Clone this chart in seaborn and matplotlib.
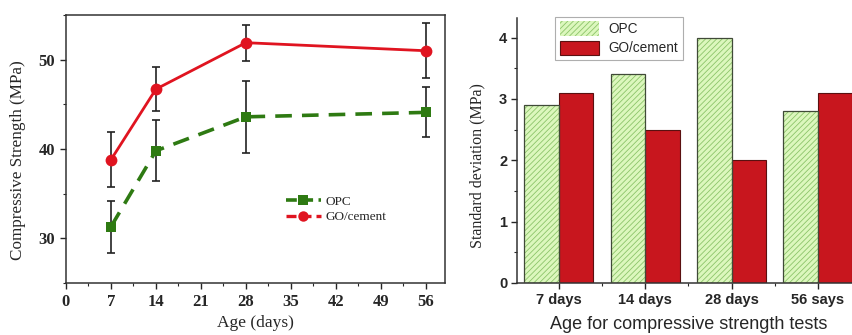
import matplotlib.pyplot as plt
import numpy as np
import pandas as pd
import seaborn as sns
from matplotlib.patches import Patch, Rectangle
from matplotlib.lines import Line2D
from matplotlib.ticker import MultipleLocator

ages = [7, 14, 28, 56]
opc_strength = [31.3, 39.8, 43.6, 44.1]
go_strength = [38.8, 46.7, 51.9, 51.0]
opc_sd = [2.9, 3.4, 4.0, 2.8]
go_sd = [3.1, 2.5, 2.0, 3.1]
age_labels = ["7 days", "14 days", "28 days", "56 says"]
series = ["OPC", "GO/cement"]

SERIF = "Liberation Serif"
SANS = "Liberation Sans"
RED_LINE = "#e01420"
GREEN_LINE = "#2e7a12"
RED_BAR = "#c8161e"
GREEN_BAR = "#dcf7bd"
HATCH_GREEN = "#8cc46a"

sns.set_style("ticks")
plt.rcParams["font.family"] = [SERIF, "DejaVu Sans"]
plt.rcParams["hatch.linewidth"] = 0.6

fig = plt.figure(figsize=(8.53, 3.35), dpi=100)

# ---- left: compressive strength vs age
ax1 = fig.add_axes([66 / 853, 52 / 335, 379 / 853, 268 / 335])

ax1.errorbar(ages, opc_strength, yerr=opc_sd, fmt="none", ecolor="#222222",
             elinewidth=1.2, capsize=3, capthick=1.2, zorder=2)
ax1.errorbar(ages, go_strength, yerr=go_sd, fmt="none", ecolor="#222222",
             elinewidth=1.2, capsize=3, capthick=1.2, zorder=2)
sns.lineplot(x=ages, y=opc_strength, ax=ax1, color=GREEN_LINE, lw=2.6,
             marker="s", markersize=7, markeredgewidth=0, zorder=3)
sns.lineplot(x=ages, y=go_strength, ax=ax1, color=RED_LINE, lw=2.0,
             marker="o", markersize=8.5, markeredgewidth=0, zorder=4)
for ln in ax1.lines:
    if ln.get_color() == GREEN_LINE:
        ln.set_linestyle((0, (4.6, 2.8)))

ax1.set_xlim(0, 59)
ax1.set_ylim(25, 55)
xt = np.arange(0, 57, 7)
yt = [30, 40, 50]
tick_font = {"family": SERIF, "weight": "bold", "size": 12}
ax1.set_xticks(xt, [str(v) for v in xt], fontdict=tick_font)
ax1.set_yticks(yt, [str(v) for v in yt], fontdict=tick_font)
ax1.xaxis.set_minor_locator(MultipleLocator(3.5))
ax1.yaxis.set_minor_locator(MultipleLocator(5))
ax1.tick_params(which="major", direction="out", length=4, width=1, pad=4)
ax1.tick_params(which="minor", direction="out", length=2.5, width=0.8)
for sp in ax1.spines.values():
    sp.set_visible(True)
    sp.set_linewidth(1.1)
    sp.set_color("#333333")
ax1.set_xlabel("Age (days)", fontsize=12.5, fontfamily=SERIF)
ax1.set_ylabel("Compressive Strength (MPa)", fontsize=12.3, fontfamily=SERIF)
ax1.xaxis.set_label_coords(0.5, -0.118)
ax1.yaxis.set_label_coords(-0.106, 0.46)

handles1 = [
    Line2D([], [], color=GREEN_LINE, lw=2.6, ls=(0, (3, 1.5)), marker="s",
           markersize=6.5, markeredgewidth=0),
    Line2D([], [], color=RED_LINE, lw=2.4, ls=(0, (3, 1.5)), marker="o",
           markersize=7.5, markeredgewidth=0),
]
ax1.legend(handles1, series, loc="upper left", bbox_to_anchor=(0.55, 0.37),
           frameon=False, prop={"family": SERIF, "size": 9.5},
           handlelength=2.6, handletextpad=0.4, labelspacing=0.25)

# ---- right: standard deviation bars
ax2 = fig.add_axes([517 / 853, 52 / 335, 344 / 853, 265 / 335])

sd_df = pd.DataFrame({
    "age": age_labels * 2,
    "sd": opc_sd + go_sd,
    "mix": [series[0]] * 4 + [series[1]] * 4,
})
sns.barplot(data=sd_df, x="age", y="sd", hue="mix", ax=ax2,
            palette=[GREEN_BAR, RED_BAR], width=0.8, saturation=1,
            legend=False, errorbar=None)

for bar in ax2.patches[:4]:
    bar.set_hatch("//////")
    bar.set_edgecolor(HATCH_GREEN)
    bar.set_linewidth(0)
    ax2.add_patch(Rectangle(bar.get_xy(), bar.get_width(), bar.get_height(),
                            fill=False, edgecolor="#404a38", lw=0.9, zorder=3))
for bar in ax2.patches[4:8]:
    bar.set_edgecolor("#5a1010")
    bar.set_linewidth(0.8)

ax2.set_xlim(-0.485, 3.485)
ax2.set_ylim(0, 4.32)
bar_font = {"family": SANS, "weight": "bold", "size": 10.5}
ax2.set_xticks(np.arange(len(age_labels)), age_labels, fontdict=bar_font)
ax2.set_yticks(range(5), [str(v) for v in range(5)], fontdict=bar_font)
ax2.set_xticks(np.arange(len(age_labels)) + 0.5, minor=True)
ax2.yaxis.set_minor_locator(MultipleLocator(0.5))
ax2.tick_params(which="major", direction="out", length=4, width=1, pad=3)
ax2.tick_params(which="minor", direction="out", length=2.5, width=0.8)
ax2.spines["top"].set_visible(False)
ax2.spines["right"].set_visible(False)
for side in ["left", "bottom"]:
    ax2.spines[side].set_linewidth(1.1)
    ax2.spines[side].set_color("#333333")
ax2.set_xlabel("Age for compressive strength tests", fontsize=13,
               fontfamily=SANS, labelpad=7)
ax2.set_ylabel("Standard deviation (MPa)", fontsize=11.5, fontfamily=SERIF)
ax2.yaxis.set_label_coords(-0.092, 0.445)

handles2 = [
    Patch(facecolor=GREEN_BAR, edgecolor=HATCH_GREEN, hatch="//////", lw=0),
    Patch(facecolor=RED_BAR, edgecolor="#5a1010", lw=0.8),
]
leg = ax2.legend(handles2, series, loc="upper left", bbox_to_anchor=(0.11, 1.005),
                 borderaxespad=0, frameon=True, fancybox=False,
                 prop={"family": SANS, "size": 9.8},
                 handlelength=2.9, handleheight=1.3, handletextpad=0.7,
                 labelspacing=0.3, borderpad=0.35)
leg.get_frame().set_edgecolor("#9a9a9a")
leg.get_frame().set_linewidth(0.8)

fig.savefig("out.png", dpi=100)
